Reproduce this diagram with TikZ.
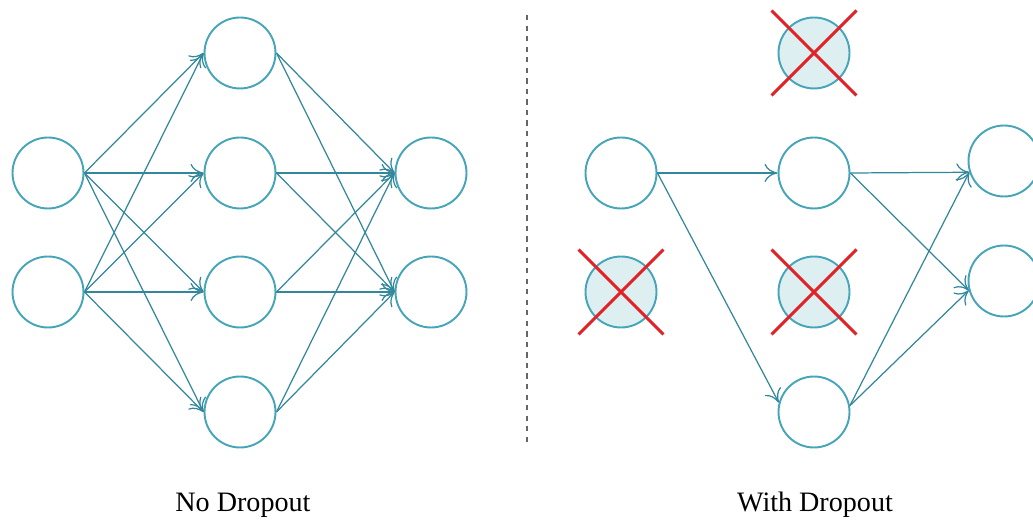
\documentclass[tikz,border=0pt]{standalone}
\usepackage{fontspec}
\setmainfont{Liberation Serif}
\usepackage{xcolor}
\usepackage{tikz}
\usetikzlibrary{arrows.meta, shapes.misc}

\definecolor{nodecol}{RGB}{70,165,185}
\definecolor{linecol}{RGB}{50,135,155}
\definecolor{dropcol}{RGB}{225,35,40}

\begin{document}
\begin{tikzpicture}[
    neuron/.style={circle, draw=nodecol, line width=1.1pt, inner sep=0pt, minimum size=1.42cm},
    dropped/.style={neuron, fill=nodecol!18},
    syn/.style={draw=linecol, line width=0.7pt, -{To[length=2.6mm, width=3.6mm]}},
    killed/.style={cross out, draw=dropcol, line width=1.7pt, inner sep=0pt, minimum size=1.64cm},
    caption/.style={font=\fontsize{16}{19}\selectfont}]
    \useasboundingbox (0,0) rectangle (20.66,10.48);

    % full network
    \node[neuron] (A1) at (0.96, 7.02) {};
    \node[neuron] (A2) at (0.96, 4.64) {};
    \node[neuron] (B1) at (4.80, 9.42) {};
    \node[neuron] (B2) at (4.80, 7.02) {};
    \node[neuron] (B3) at (4.80, 4.64) {};
    \node[neuron] (B4) at (4.80, 2.24) {};
    \node[neuron] (C1) at (8.62, 7.02) {};
    \node[neuron] (C2) at (8.62, 4.64) {};

    \draw[syn] (A1.east) -- (B1.west);
    \draw[syn] (A1.east) -- (B2.west);
    \draw[syn] (A1.east) -- (B3.west);
    \draw[syn] (A1.east) -- (B4.west);
    \draw[syn] (A2.east) -- (B1.west);
    \draw[syn] (A2.east) -- (B2.west);
    \draw[syn] (A2.east) -- (B3.west);
    \draw[syn] (A2.east) -- (B4.west);

    \draw[syn] (B1.east) -- (C1.west);
    \draw[syn] (B1.east) -- (C2.west);
    \draw[syn] (B2.east) -- (C1.west);
    \draw[syn] (B2.east) -- (C2.west);
    \draw[syn] (B3.east) -- (C1.west);
    \draw[syn] (B3.east) -- (C2.west);
    \draw[syn] (B4.east) -- (C1.west);
    \draw[syn] (B4.east) -- (C2.west);

    \node[caption] (noDrop) at (4.86, 0.38) {No Dropout};

    % separator
    \coordinate (sepTop) at (10.54, 10.18);
    \coordinate (sepBot) at (10.54, 1.58);
    \draw[gray!80!black, line width=1pt, dashed] (sepTop) -- (sepBot);

    % thinned network
    \node[neuron]  (D1) at (12.42, 7.02) {};
    \node[dropped] (D2) at (12.42, 4.64) {};
    \node[dropped] (E1) at (16.28, 9.42) {};
    \node[neuron]  (E2) at (16.28, 7.02) {};
    \node[dropped] (E3) at (16.28, 4.64) {};
    \node[neuron]  (E4) at (16.28, 2.24) {};
    \node[neuron]  (F1) at (20.08, 7.26) {};
    \node[neuron]  (F2) at (20.08, 4.86) {};

    \node[killed] (xD2) at (D2) {};
    \node[killed] (xE1) at (E1) {};
    \node[killed] (xE3) at (E3) {};

    \draw[syn] (D1.east) -- (E2.west);
    \draw[syn] (D1.east) -- (E4.165);
    \draw[syn] (E2.east) -- (F1.198);
    \draw[syn] (E2.east) -- (F2.195);
    \draw[syn] (E4.10) -- (F1.198);
    \draw[syn] (E4.10) -- (F2.195);

    \node[caption] (withDrop) at (16.30, 0.38) {With Dropout};
\end{tikzpicture}
\end{document}
